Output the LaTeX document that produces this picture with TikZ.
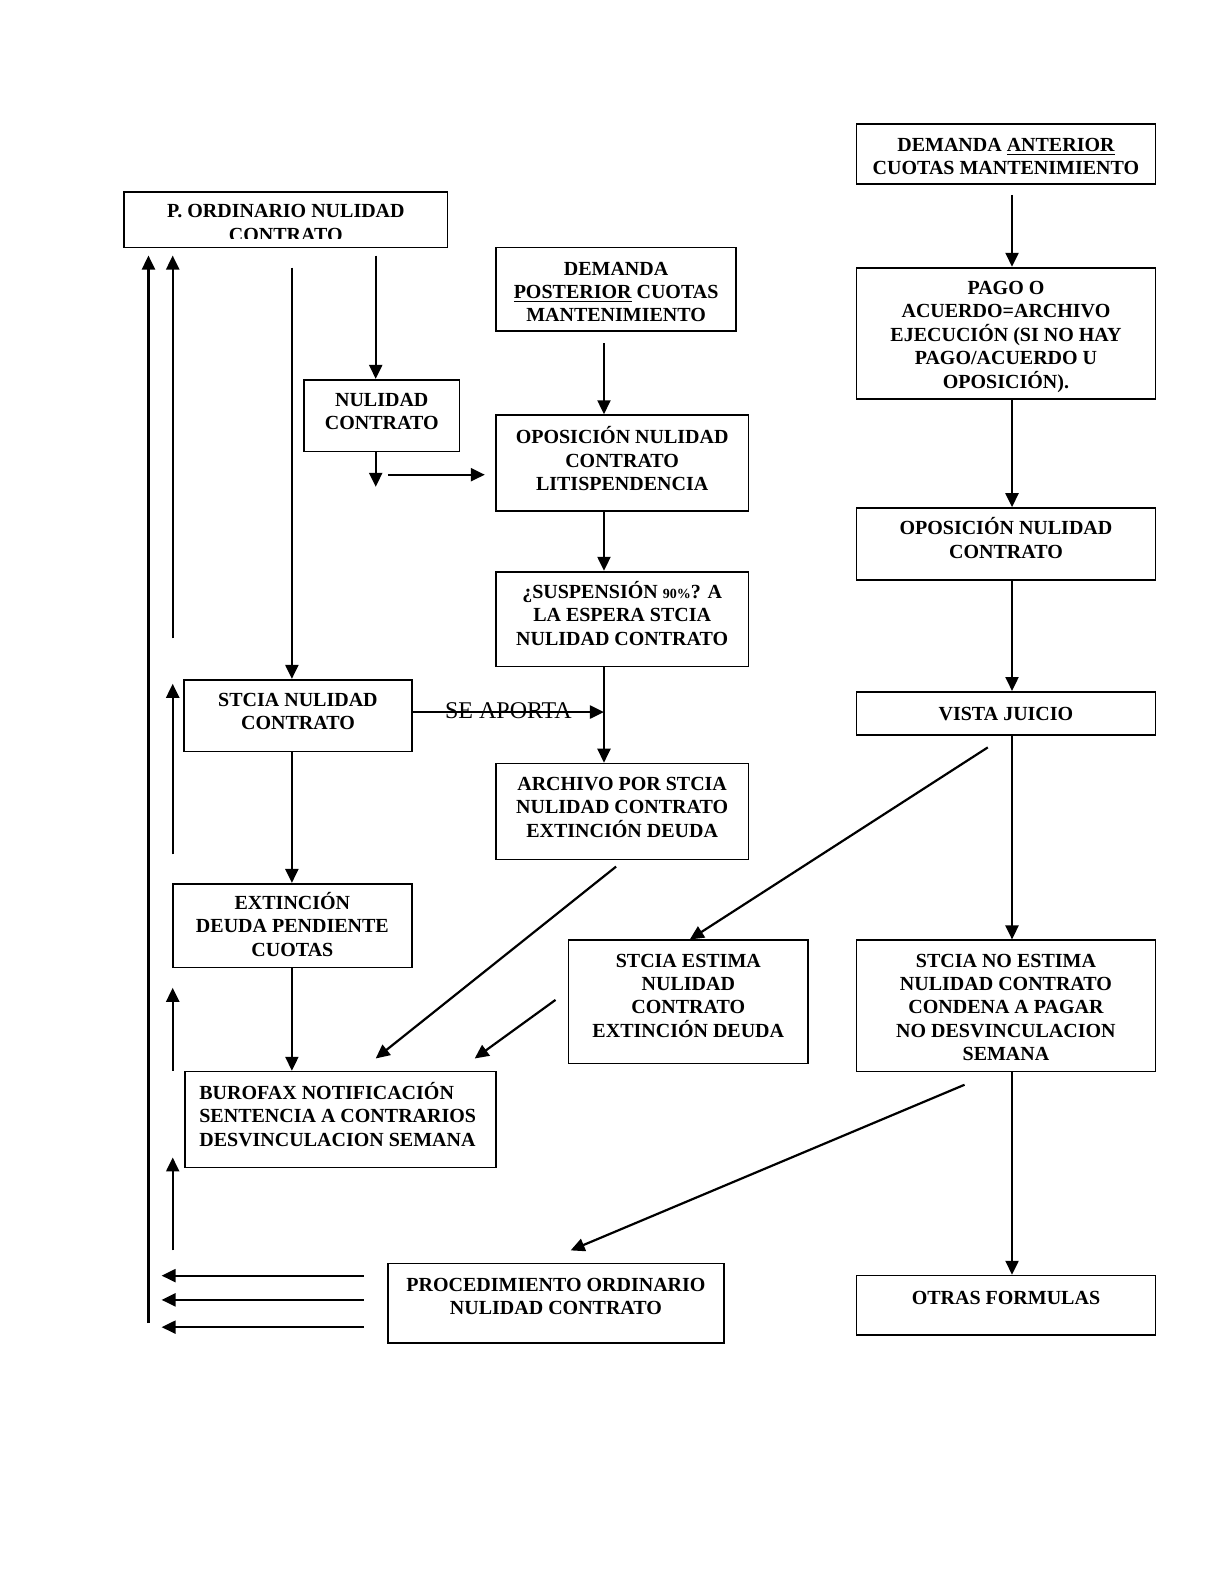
\documentclass[tikz,border=0pt]{standalone}
\usepackage{fontspec}
\setmainfont{Liberation Serif}
\usetikzlibrary{arrows.meta,fit}

\tikzset{
  box/.style={draw, line width=0.85pt, inner sep=0pt},
  txt/.style={inner sep=0pt, anchor=north, align=center,
    font=\fontsize{10}{11.7}\selectfont\bfseries,
    execute at begin node=\rule{0pt}{9.5pt}},
  arr/.style={line width=1.1pt, -{Triangle[length=7pt,width=6.5pt]}},
}

\begin{document}
\begin{tikzpicture}[x=0.505pt,y=-0.505pt]
  \useasboundingbox (0,0) rectangle (1211.88,1568.32);

  % boxes, left and middle columns
  \node[box, fit={(123,190) (443,245)}] (pord) {};
  \begin{scope}
    \clip (125,192) rectangle (441,236);
    \node[txt] at (283,202) {P. ORDINARIO NULIDAD\\CONTRATO};
  \end{scope}
  \node[box, fit={(491,245) (729,328)}] (dpost) {};
  \node[txt] at (610,259) {DEMANDA\\\underline{POSTERIOR} CUOTAS\\MANTENIMIENTO};
  \node[box, fit={(301,376) (455,447)}] (nul) {};
  \node[txt] at (378,389) {NULIDAD\\CONTRATO};
  \node[box, fit={(491,411) (741,506)}] (opos) {};
  \node[txt] at (616,422) {OPOSICIÓN NULIDAD\\CONTRATO\\LITISPENDENCIA};
  \node[box, fit={(491,566) (741,660)}] (susp) {};
  \node[txt] at (616,575) {¿SUSPENSIÓN {\fontsize{7}{7}\selectfont 90\%}? A\\LA ESPERA STCIA\\NULIDAD CONTRATO};
  \node[box, fit={(182,673) (408,744)}] (stcia) {};
  \node[txt] at (295,686) {STCIA NULIDAD\\CONTRATO};
  \node[box, fit={(491,756) (741,851)}] (arch) {};
  \node[txt] at (616,769) {ARCHIVO POR STCIA\\NULIDAD CONTRATO\\EXTINCIÓN DEUDA};
  \node[box, fit={(171,875) (408,958)}] (ext) {};
  \node[txt] at (289.5,883) {EXTINCIÓN\\DEUDA PENDIENTE\\CUOTAS};
  \node[box, fit={(183,1061) (491,1156)}] (buro) {};
  \node[txt, anchor=north west, align=left] at (197,1071) {BUROFAX NOTIFICACIÓN\\SENTENCIA A CONTRARIOS\\DESVINCULACION SEMANA};
  \node[box, fit={(563,931) (800,1053)}] (estima) {};
  \node[txt] at (681.5,944) {STCIA ESTIMA\\NULIDAD\\CONTRATO\\EXTINCIÓN DEUDA};
  \node[box, fit={(384,1251) (717,1330)}] (proc) {};
  \node[txt] at (550.5,1265) {PROCEDIMIENTO ORDINARIO\\NULIDAD CONTRATO};

  % boxes, right column
  \node[box, fit={(848,123) (1144,182)}] (dant) {};
  \node[txt] at (996,136) {DEMANDA \underline{ANTERIOR}\\CUOTAS MANTENIMIENTO};
  \node[box, fit={(848,265) (1144,395)}] (pago) {};
  \node[txt] at (996,278) {PAGO O\\ACUERDO=ARCHIVO\\EJECUCIÓN (SI NO HAY\\PAGO/ACUERDO U\\OPOSICIÓN).};
  \node[box, fit={(848,503) (1144,574)}] (oposr) {};
  \node[txt] at (996,512) {OPOSICIÓN NULIDAD\\CONTRATO};
  \node[box, fit={(848,685) (1144,728)}] (vista) {};
  \node[txt] at (996,694) {VISTA JUICIO};
  \node[box, fit={(848,931) (1144,1061)}] (noest) {};
  \node[txt] at (996,944) {STCIA NO ESTIMA\\NULIDAD CONTRATO\\CONDENA A PAGAR\\NO DESVINCULACION\\SEMANA};
  \node[box, fit={(848,1263) (1144,1322)}] (otras) {};
  \node[txt] at (996,1272) {OTRAS FORMULAS};

  % arrows down the middle
  \draw[arr] (372,253) -- (nul.north -| 372,0);
  \draw[arr] (nul.south -| 372,0) -- (372,482);
  \draw[arr] (384,470) -- (480,470);
  \draw[arr] (289,265) -- (stcia.north -| 289,0);
  \draw[arr] (598,340) -- (opos.north -| 598,0);
  \draw[arr] (opos.south -| 598,0) -- (susp.north -| 598,0);
  \draw[arr] (susp.south -| 598,0) -- (arch.north -| 598,0);
  \draw[arr] (stcia.east |- 0,705) -- (598,705)
    node[midway, above=-7pt, font=\fontsize{12}{12}\selectfont] {SE APORTA};
  \draw[arr] (stcia.south -| 289,0) -- (ext.north -| 289,0);
  \draw[arr] (ext.south -| 289,0) -- (buro.north -| 289,0);
  \draw[arr] (610,858) -- (372,1048);
  \draw[arr] (550,990) -- (470,1048);

  % arrows down the right column
  \draw[arr] (1002,193) -- (pago.north -| 1002,0);
  \draw[arr] (pago.south -| 1002,0) -- (oposr.north -| 1002,0);
  \draw[arr] (oposr.south -| 1002,0) -- (vista.north -| 1002,0);
  \draw[arr] (vista.south -| 1002,0) -- (noest.north -| 1002,0);
  \draw[arr] (noest.south -| 1002,0) -- (otras.north -| 1002,0);
  \draw[arr] (978,740) -- (estima.north -| 683,0);
  \draw[arr] (955,1074) -- (565,1238);

  % back to the start
  \foreach \y in {1263,1287,1314}
    \draw[arr] (360,\y) -- (160,\y);
  \draw[arr] (147,1310) -- (147,253);
  \draw[arr] (171,632) -- (171,253);
  \draw[arr] (171,846) -- (171,677);
  \draw[arr] (171,1060) -- (171,978);
  \draw[arr] (171,1238) -- (171,1146);
\end{tikzpicture}
\end{document}
